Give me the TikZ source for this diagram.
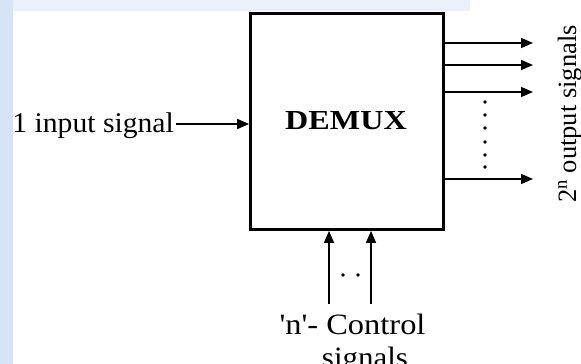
\documentclass[tikz,border=0pt]{standalone}
\usepackage{fontspec}
\setmainfont{Liberation Serif}
\usetikzlibrary{arrows.meta}
\definecolor{wm}{RGB}{214,228,243}
\begin{document}
\begin{tikzpicture}[x=1pt,y=1pt,
  arr/.style={line width=1.6pt,-{Triangle[length=12pt,width=10pt]}},
  lbl/.style={inner sep=0pt,font=\fontsize{28.5}{30}\selectfont},
  dotm/.style={circle,fill=black,inner sep=0pt,minimum size=3.6pt}]
\useasboundingbox (0,0) rectangle (581,364);
\fill[wm] (0,0) rectangle (13,364);
\fill[wm!50] (13,353) rectangle (470,364);
% box
\node[draw,line width=2.8pt,minimum width=193pt,minimum height=216pt,inner sep=0pt] (box) at (347,242.5) {};
\node[lbl,font=\fontsize{27.5}{30}\selectfont\bfseries,xscale=1.17] (dm) at (346,243) {DEMUX};
% input
\node[lbl,anchor=base east,xscale=1.04] (inl) at (174,231) {1 input signal};
\coordinate (in0) at (176,240);
\draw[arr] (in0) -- (in0 -| box.west);
% outputs
\coordinate (o1) at (533,321);
\coordinate (o2) at (533,299);
\coordinate (o3) at (533,272);
\coordinate (o4) at (533,185);
\foreach \o in {o1,o2,o3,o4} \draw[arr] (box.east |- \o) -- (\o);
\foreach \y [count=\i] in {262,249,236,222,209,197} \node[dotm] (od\i) at (485,\y) {};
\node[lbl,rotate=90,anchor=base,font=\fontsize{26.5}{30}\selectfont] (outl) at (576,250) {2\textsuperscript{n} output signals};
% control
\coordinate (c1) at (329,60);
\coordinate (c2) at (371,60);
\draw[arr] (c1) -- (c1 |- box.south);
\draw[arr] (c2) -- (c2 |- box.south);
\node[dotm] (cd1) at (343,89) {};
\node[dotm] (cd2) at (358,89) {};
\node[lbl,anchor=base,font=\fontsize{29.5}{30}\selectfont,xscale=1.1] (ctl) at (352.5,29) {\textquotesingle n\textquotesingle- Control};
\node[lbl,anchor=base,font=\fontsize{29.5}{30}\selectfont,xscale=1.05] (ctl2) at (365,-4) {signals};
\end{tikzpicture}
\end{document}
